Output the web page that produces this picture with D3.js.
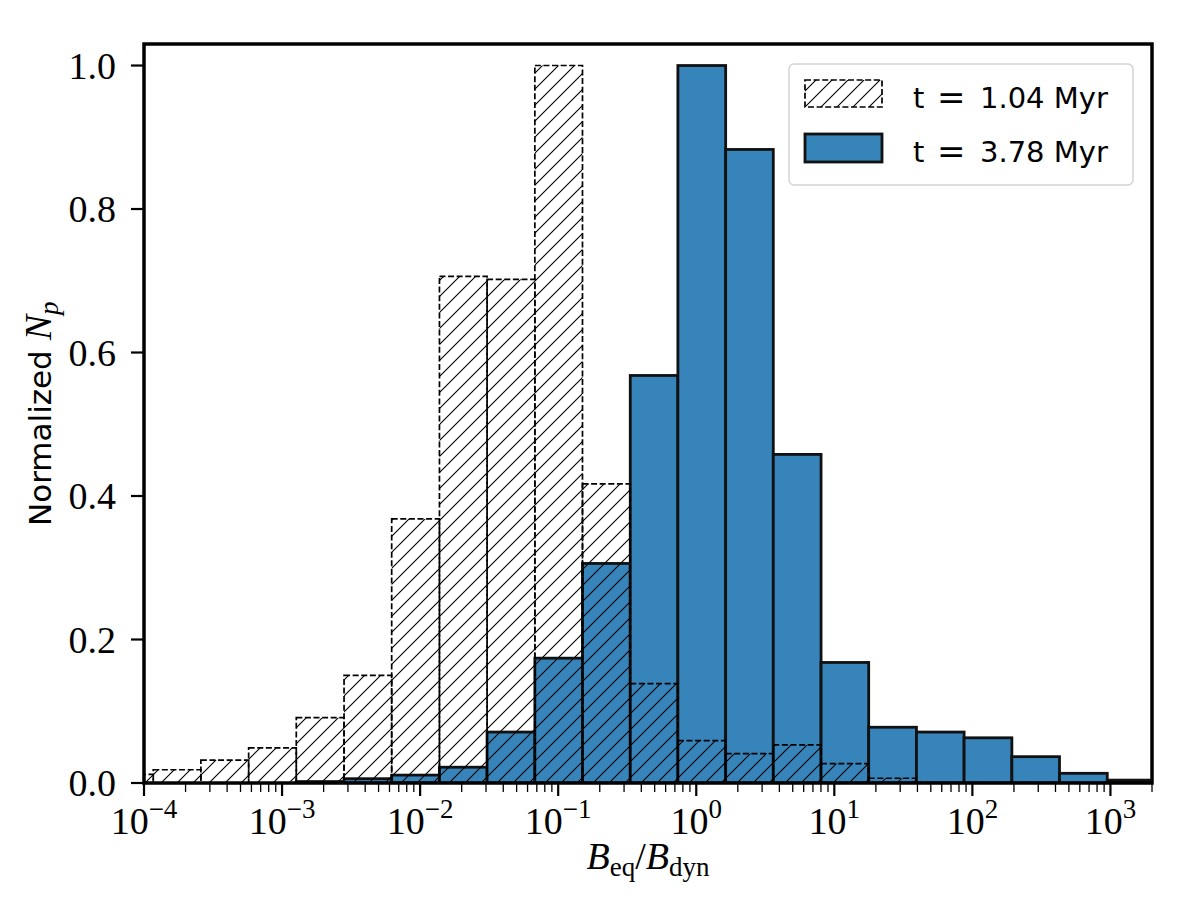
<!DOCTYPE html>
<html>
<head>
<meta charset="utf-8">
<script src="https://cdn.jsdelivr.net/npm/d3@7"></script>
<style>
  html, body { margin: 0; padding: 0; background: #fff; }
  svg { display: block; }
</style>
</head>
<body>
<svg id="chart" width="1200" height="900"></svg>
<script>
// ---- data ----
const binEdgesLog10 = [-4.279, -3.933, -3.588, -3.242, -2.897, -2.551, -2.206, -1.860, -1.515, -1.169,
  -0.824, -0.478, -0.133, 0.213, 0.558, 0.904, 1.249, 1.595, 1.940, 2.286, 2.631, 2.977, 3.322];
const seriesEarly = [0.012, 0.0185, 0.032, 0.049, 0.091, 0.150, 0.368, 0.706, 0.702, 1.0, 0.417,
  0.1385, 0.059, 0.041, 0.053, 0.027, 0.0066, 0, 0, 0, 0, 0];
const seriesLate = [0, 0, 0, 0, 0.002, 0.006, 0.011, 0.022, 0.071, 0.174, 0.306,
  0.568, 1.0, 0.883, 0.458, 0.168, 0.0777, 0.071, 0.063, 0.0367, 0.0135, 0.004];
const legendLabels = ["1.04 Myr", "3.78 Myr"];
const xMajorTickExponents = [-4, -3, -2, -1, 0, 1, 2, 3];
const yTickValues = [0, 0.2, 0.4, 0.6, 0.8, 1.0];

// ---- layout ----
const L = 144, R = 1152, T = 44, B = 783;
const blue = "#3784bb";
const svg = d3.select("#chart");
const serif = "'Liberation Serif', 'Times New Roman', serif";
const sans = "'DejaVu Sans', sans-serif";

const x = d3.scaleLog().domain([1e-4, 2e3]).range([L, R]);
const y = d3.scaleLinear().domain([0, 1.03]).range([B, T]);

const defs = svg.append("defs");
defs.append("clipPath").attr("id", "plotclip")
  .append("rect").attr("x", L).attr("y", T).attr("width", R - L).attr("height", B - T);
const pat = defs.append("pattern").attr("id", "hatch")
  .attr("patternUnits", "userSpaceOnUse").attr("width", 16).attr("height", 16);
pat.append("path").attr("d", "M-4,4 L4,-4 M0,16 L16,0 M12,20 L20,12")
  .attr("stroke", "#000").attr("stroke-width", 1.1).attr("fill", "none");

const bins = seriesEarly.map((v, i) => ({
  x0: Math.pow(10, binEdgesLog10[i]),
  x1: Math.pow(10, binEdgesLog10[i + 1]),
  early: v,
  late: seriesLate[i]
}));

const plot = svg.append("g").attr("clip-path", "url(#plotclip)");

// late (blue) bars
plot.selectAll("rect.late").data(bins.filter(d => d.late > 0)).join("rect")
  .attr("class", "late")
  .attr("x", d => x(d.x0)).attr("width", d => x(d.x1) - x(d.x0))
  .attr("y", d => y(d.late)).attr("height", d => y(0) - y(d.late))
  .attr("fill", blue).attr("stroke", "#111").attr("stroke-width", 2.8);

// early (hatched) bars
plot.selectAll("rect.early").data(bins.filter(d => d.early > 0)).join("rect")
  .attr("class", "early")
  .attr("x", d => x(d.x0)).attr("width", d => x(d.x1) - x(d.x0))
  .attr("y", d => y(d.early)).attr("height", d => y(0) - y(d.early))
  .attr("fill", "url(#hatch)").attr("stroke", "#000").attr("stroke-width", 1.7)
  .attr("stroke-dasharray", "6,2.6");

// ---- axes ----
const minorTicks = [];
for (let e = -4; e <= 3; e++) {
  for (let m = 2; m <= 9; m++) {
    const v = m * Math.pow(10, e);
    if (v <= 2e3 + 1e-9) minorTicks.push(v);
  }
}
const ax = svg.append("g");
ax.selectAll("line.minor").data(minorTicks).join("line")
  .attr("x1", d => x(d)).attr("x2", d => x(d))
  .attr("y1", B).attr("y2", B + 9)
  .attr("stroke", "#000").attr("stroke-width", 1.3);
ax.selectAll("line.major").data(xMajorTickExponents).join("line")
  .attr("x1", d => x(Math.pow(10, d))).attr("x2", d => x(Math.pow(10, d)))
  .attr("y1", B).attr("y2", B + 13)
  .attr("stroke", "#000").attr("stroke-width", 2.2);

const xl = ax.selectAll("text.xt").data(xMajorTickExponents).join("text")
  .attr("x", d => x(Math.pow(10, d))).attr("y", 834)
  .attr("text-anchor", "middle")
  .attr("font-family", serif).attr("font-size", 38).attr("fill", "#000");
xl.append("tspan").text("10");
xl.append("tspan").attr("dy", -16).attr("font-size", 27)
  .text(d => d < 0 ? "\u2212" + Math.abs(d) : String(d));

ax.selectAll("line.yt").data(yTickValues).join("line")
  .attr("x1", L - 13).attr("x2", L)
  .attr("y1", d => y(d)).attr("y2", d => y(d))
  .attr("stroke", "#000").attr("stroke-width", 2.2);
ax.selectAll("text.yt").data(yTickValues).join("text")
  .attr("x", 116).attr("y", d => y(d) + 13)
  .attr("text-anchor", "end")
  .attr("font-family", serif).attr("font-size", 38).attr("fill", "#000")
  .text(d => d.toFixed(1));

svg.append("rect").attr("x", L).attr("y", T).attr("width", R - L).attr("height", B - T)
  .attr("fill", "none").attr("stroke", "#000").attr("stroke-width", 3.5);

// axis labels
const xlab = svg.append("text").attr("x", (L + R) / 2).attr("y", 869)
  .attr("text-anchor", "middle").attr("font-family", serif).attr("font-size", 38).attr("fill", "#000");
xlab.append("tspan").attr("font-style", "italic").text("B");
xlab.append("tspan").attr("font-size", 27).attr("dy", 7).text("eq");
xlab.append("tspan").attr("dy", -7).text("/");
xlab.append("tspan").attr("font-style", "italic").text("B");
xlab.append("tspan").attr("font-size", 27).attr("dy", 7).text("dyn");

const ylab = svg.append("text").attr("transform", "translate(51,526) rotate(-90)")
  .attr("text-anchor", "start").attr("font-family", sans).attr("font-size", 31).attr("fill", "#000");
ylab.append("tspan").text("Normalized ");
ylab.append("tspan").attr("font-family", serif).attr("font-style", "italic").attr("font-size", 38).text("N");
ylab.append("tspan").attr("font-family", serif).attr("font-style", "italic").attr("font-size", 27).attr("dy", 7).text("p");

// legend
const lg = svg.append("g");
lg.append("rect").attr("x", 789).attr("y", 64).attr("width", 344).attr("height", 121)
  .attr("rx", 5).attr("fill", "#fff").attr("fill-opacity", 0.8)
  .attr("stroke", "#d4d4d4").attr("stroke-width", 1.5);
lg.append("rect").attr("x", 805).attr("y", 80).attr("width", 77).attr("height", 27)
  .attr("fill", "url(#hatch)").attr("stroke", "#000").attr("stroke-width", 1.7).attr("stroke-dasharray", "6,2.6");
lg.append("rect").attr("x", 805).attr("y", 134).attr("width", 77).attr("height", 28)
  .attr("fill", blue).attr("stroke", "#111").attr("stroke-width", 2.8);
const legendY = [108, 162];
legendLabels.forEach((lab, i) => {
  const t = lg.append("text").attr("y", legendY[i]).attr("font-family", sans)
    .attr("font-size", 29).attr("fill", "#000");
  t.append("tspan").attr("x", 913).text("t");
  t.append("tspan").attr("x", 937).attr("font-size", 34).attr("dy", 1).text("=");
  t.append("tspan").attr("x", 980).attr("dy", -1).text(lab);
});
</script>
</body>
</html>
